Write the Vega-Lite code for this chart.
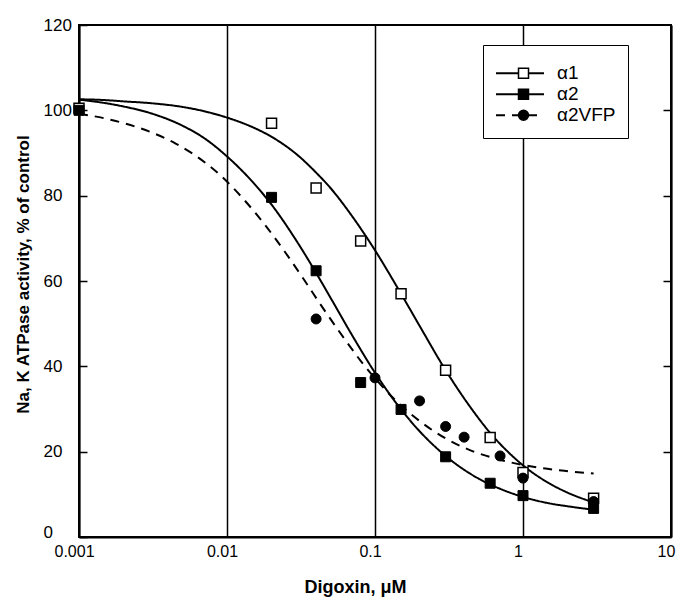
{
  "$schema": "https://vega.github.io/schema/vega-lite/v6.json",
  "width": 592,
  "height": 512,
  "autosize": "none",
  "padding": {"left": 79, "top": 25, "right": 10, "bottom": 60},
  "background": "white",
  "datasets": {
    "curves": [
      {"series": "α1", "x": 0.001, "y": 102.6},
      {"series": "α1", "x": 0.0015, "y": 102.4},
      {"series": "α1", "x": 0.002, "y": 102.1},
      {"series": "α1", "x": 0.003, "y": 101.7},
      {"series": "α1", "x": 0.005, "y": 100.8},
      {"series": "α1", "x": 0.007, "y": 99.8},
      {"series": "α1", "x": 0.01, "y": 98.3},
      {"series": "α1", "x": 0.015, "y": 96.0},
      {"series": "α1", "x": 0.02, "y": 93.8},
      {"series": "α1", "x": 0.03, "y": 89.5},
      {"series": "α1", "x": 0.04, "y": 85.4},
      {"series": "α1", "x": 0.05, "y": 81.8},
      {"series": "α1", "x": 0.07, "y": 75.2},
      {"series": "α1", "x": 0.1, "y": 67.2},
      {"series": "α1", "x": 0.15, "y": 57.0},
      {"series": "α1", "x": 0.2, "y": 49.5},
      {"series": "α1", "x": 0.3, "y": 39.1},
      {"series": "α1", "x": 0.45, "y": 30.0},
      {"series": "α1", "x": 0.6, "y": 24.4},
      {"series": "α1", "x": 0.8, "y": 19.8},
      {"series": "α1", "x": 1, "y": 16.8},
      {"series": "α1", "x": 1.5, "y": 12.6},
      {"series": "α1", "x": 2, "y": 10.4},
      {"series": "α1", "x": 3, "y": 8.1},
      {"series": "α2", "x": 0.001, "y": 102.5},
      {"series": "α2", "x": 0.0015, "y": 101.7},
      {"series": "α2", "x": 0.002, "y": 100.9},
      {"series": "α2", "x": 0.003, "y": 99.4},
      {"series": "α2", "x": 0.005, "y": 96.4},
      {"series": "α2", "x": 0.007, "y": 93.5},
      {"series": "α2", "x": 0.01, "y": 89.2},
      {"series": "α2", "x": 0.015, "y": 83.1},
      {"series": "α2", "x": 0.02, "y": 77.9},
      {"series": "α2", "x": 0.03, "y": 69.0},
      {"series": "α2", "x": 0.04, "y": 61.9},
      {"series": "α2", "x": 0.05, "y": 56.1},
      {"series": "α2", "x": 0.07, "y": 47.3},
      {"series": "α2", "x": 0.1, "y": 38.5},
      {"series": "α2", "x": 0.15, "y": 29.9},
      {"series": "α2", "x": 0.2, "y": 24.8},
      {"series": "α2", "x": 0.3, "y": 19.0},
      {"series": "α2", "x": 0.5, "y": 13.7},
      {"series": "α2", "x": 0.7, "y": 11.3},
      {"series": "α2", "x": 1, "y": 9.4},
      {"series": "α2", "x": 1.5, "y": 7.9},
      {"series": "α2", "x": 2, "y": 7.2},
      {"series": "α2", "x": 3, "y": 6.4},
      {"series": "α2VFP", "x": 0.001, "y": 99.2},
      {"series": "α2VFP", "x": 0.0015, "y": 98.1},
      {"series": "α2VFP", "x": 0.002, "y": 97.0},
      {"series": "α2VFP", "x": 0.003, "y": 95.0},
      {"series": "α2VFP", "x": 0.0045, "y": 92.2},
      {"series": "α2VFP", "x": 0.006, "y": 89.6},
      {"series": "α2VFP", "x": 0.009, "y": 84.8},
      {"series": "α2VFP", "x": 0.013, "y": 79.1},
      {"series": "α2VFP", "x": 0.018, "y": 73.2},
      {"series": "α2VFP", "x": 0.025, "y": 66.5},
      {"series": "α2VFP", "x": 0.033, "y": 60.4},
      {"series": "α2VFP", "x": 0.045, "y": 53.4},
      {"series": "α2VFP", "x": 0.06, "y": 47.2},
      {"series": "α2VFP", "x": 0.08, "y": 41.3},
      {"series": "α2VFP", "x": 0.1, "y": 37.2},
      {"series": "α2VFP", "x": 0.15, "y": 30.8},
      {"series": "α2VFP", "x": 0.2, "y": 27.2},
      {"series": "α2VFP", "x": 0.3, "y": 23.1},
      {"series": "α2VFP", "x": 0.45, "y": 20.2},
      {"series": "α2VFP", "x": 0.65, "y": 18.4},
      {"series": "α2VFP", "x": 0.9, "y": 17.2},
      {"series": "α2VFP", "x": 1.3, "y": 16.2},
      {"series": "α2VFP", "x": 1.9, "y": 15.5},
      {"series": "α2VFP", "x": 3, "y": 14.9}
    ],
    "obs": [
      {"series": "α1", "x": 0.001, "y": 100.5},
      {"series": "α1", "x": 0.02, "y": 97.0},
      {"series": "α1", "x": 0.04, "y": 81.8},
      {"series": "α1", "x": 0.08, "y": 69.4},
      {"series": "α1", "x": 0.15, "y": 57.0},
      {"series": "α1", "x": 0.3, "y": 39.1},
      {"series": "α1", "x": 0.6, "y": 23.3},
      {"series": "α1", "x": 1, "y": 15.1},
      {"series": "α1", "x": 3, "y": 9.1},
      {"series": "α2VFP", "x": 0.04, "y": 51.1},
      {"series": "α2VFP", "x": 0.1, "y": 37.3},
      {"series": "α2VFP", "x": 0.2, "y": 31.9},
      {"series": "α2VFP", "x": 0.3, "y": 25.9},
      {"series": "α2VFP", "x": 0.4, "y": 23.4},
      {"series": "α2VFP", "x": 0.7, "y": 19.0},
      {"series": "α2VFP", "x": 1, "y": 13.8},
      {"series": "α2VFP", "x": 3, "y": 8.3},
      {"series": "α2", "x": 0.001, "y": 100.0},
      {"series": "α2", "x": 0.02, "y": 79.6},
      {"series": "α2", "x": 0.04, "y": 62.4},
      {"series": "α2", "x": 0.08, "y": 36.2},
      {"series": "α2", "x": 0.15, "y": 29.9},
      {"series": "α2", "x": 0.3, "y": 18.8},
      {"series": "α2", "x": 0.6, "y": 12.6},
      {"series": "α2", "x": 1, "y": 9.7},
      {"series": "α2", "x": 3, "y": 6.7}
    ]
  },
  "layer": [
    {
      "data": {"name": "curves"},
      "mark": {"type": "line", "color": "black", "strokeWidth": 2, "interpolate": "monotone"},
      "encoding": {
        "x": {
          "field": "x", "type": "quantitative",
          "scale": {"type": "log", "domain": [0.001, 10], "nice": false},
          "axis": {
            "values": [0.001, 0.01, 0.1, 1, 10], "format": "~g",
            "grid": true, "gridColor": "black", "gridWidth": 1.5, "gridOpacity": 1,
            "ticks": false, "domainColor": "black", "domainWidth": 2,
            "labelFontSize": 16, "labelPadding": 6, "labelOffset": -5, "labelFlush": false,
            "title": "Digoxin, μM", "titleFontSize": 18, "titleFontWeight": "bold",
            "titleX": 276, "titleY": 50, "titleBaseline": "middle", "titleAlign": "center"
          }
        },
        "y": {
          "field": "y", "type": "quantitative",
          "scale": {"domain": [0, 120], "nice": false},
          "axis": {
            "orient": "right", "values": [20, 40, 60, 80, 100], "labels": false,
            "grid": false, "tickSize": -8, "tickColor": "black", "tickWidth": 1.5,
            "domainColor": "black", "domainWidth": 2, "title": null
          }
        },
        "strokeDash": {
          "field": "series", "type": "nominal",
          "scale": {"domain": ["α1", "α2", "α2VFP"], "range": [[1, 0], [1, 0], [9, 7]]},
          "legend": {
            "title": " ", "titleFontSize": 6, "titlePadding": 0,
            "orient": "none", "legendX": 404, "legendY": 20,
            "symbolType": "stroke", "symbolSize": 2304, "symbolStrokeWidth": 2, "symbolStrokeColor": "black",
            "clipHeight": 20.4, "rowPadding": 0, "padding": 12,
            "labelFontSize": 19, "labelOffset": 12, "labelColor": "black",
            "strokeColor": "black", "fillColor": "white"
          }
        }
      }
    },
    {
      "data": {"name": "obs"},
      "transform": [{"filter": {"field": "series", "equal": "α1"}}],
      "mark": {"type": "point", "shape": "square", "filled": true, "fill": "white", "stroke": "black", "strokeWidth": 1.5, "size": 100, "opacity": 1},
      "encoding": {
        "x": {"field": "x", "type": "quantitative", "scale": {"type": "log", "domain": [0.001, 10], "nice": false}},
        "y": {
          "field": "y", "type": "quantitative",
          "scale": {"domain": [0, 120], "nice": false},
          "axis": {
            "orient": "left", "values": [0, 20, 40, 60, 80, 100, 120],
            "grid": false, "tickSize": -8, "tickColor": "black", "tickWidth": 1.5,
            "domainColor": "black", "domainWidth": 2,
            "labelFontSize": 17, "labelAlign": "left", "labelPadding": 44,
            "labelBaseline": {"condition": {"test": "datum.value === 0", "value": "alphabetic"}, "value": "middle"},
            "title": "Na, K ATPase activity, % of control", "titleFontSize": 17, "titleFontWeight": "bold",
            "titleX": -56, "titleY": 249, "titleAngle": -90, "titleBaseline": "middle", "titleAlign": "center"
          }
        }
      }
    },
    {
      "data": {"name": "obs"},
      "transform": [{"filter": {"field": "series", "equal": "α2VFP"}}],
      "mark": {"type": "point", "shape": "circle", "filled": true, "fill": "black", "stroke": "black", "strokeWidth": 1, "size": 100, "opacity": 1},
      "encoding": {
        "x": {"field": "x", "type": "quantitative", "scale": {"type": "log", "domain": [0.001, 10], "nice": false}},
        "y": {"field": "y", "type": "quantitative", "scale": {"domain": [0, 120], "nice": false}, "axis": null}
      }
    },
    {
      "data": {"name": "obs"},
      "transform": [{"filter": {"field": "series", "equal": "α2"}}],
      "mark": {"type": "point", "shape": "square", "filled": true, "fill": "black", "stroke": "black", "strokeWidth": 1, "size": 100, "opacity": 1},
      "encoding": {
        "x": {"field": "x", "type": "quantitative", "scale": {"type": "log", "domain": [0.001, 10], "nice": false}},
        "y": {"field": "y", "type": "quantitative", "scale": {"domain": [0, 120], "nice": false}, "axis": null}
      }
    },
    {
      "data": {"name": "obs"},
      "transform": [{"filter": "false"}],
      "mark": {"type": "point", "filled": true, "strokeWidth": 1.5, "opacity": 1},
      "encoding": {
        "x": {"field": "x", "type": "quantitative", "scale": {"type": "log", "domain": [0.001, 10], "nice": false}},
        "y": {"field": "y", "type": "quantitative", "scale": {"domain": [0, 120], "nice": false}, "axis": null},
        "shape": {
          "field": "series", "type": "nominal",
          "scale": {"domain": ["α1 marker", "α2 marker", "α2VFP marker"], "range": ["square", "square", "circle"]},
          "legend": {
            "title": " ", "titleFontSize": 6, "titlePadding": 0,
            "orient": "none", "legendX": 404, "legendY": 20,
            "symbolSize": 100, "symbolOffset": 19, "symbolStrokeColor": "black", "symbolStrokeWidth": 1.5,
            "clipHeight": 20.4, "rowPadding": 0, "padding": 12,
            "labelFontSize": 19, "labelOpacity": 0,
            "strokeColor": "transparent", "fillColor": "transparent"
          }
        },
        "fill": {
          "field": "series", "type": "nominal",
          "scale": {"domain": ["α1 marker", "α2 marker", "α2VFP marker"], "range": ["white", "black", "black"]},
          "legend": {
            "title": " ", "titleFontSize": 6, "titlePadding": 0,
            "orient": "none", "legendX": 404, "legendY": 20,
            "symbolSize": 100, "symbolOffset": 19, "symbolStrokeColor": "black", "symbolStrokeWidth": 1.5,
            "clipHeight": 20.4, "rowPadding": 0, "padding": 12,
            "labelFontSize": 19, "labelOpacity": 0,
            "strokeColor": "transparent", "fillColor": "transparent"
          }
        },
        "stroke": {
          "field": "series", "type": "nominal",
          "scale": {"domain": ["α1 marker", "α2 marker", "α2VFP marker"], "range": ["black", "black", "black"]},
          "legend": {
            "title": " ", "titleFontSize": 6, "titlePadding": 0,
            "orient": "none", "legendX": 404, "legendY": 20,
            "symbolSize": 100, "symbolOffset": 19, "symbolStrokeColor": "black", "symbolStrokeWidth": 1.5,
            "clipHeight": 20.4, "rowPadding": 0, "padding": 12,
            "labelFontSize": 19, "labelOpacity": 0,
            "strokeColor": "transparent", "fillColor": "transparent"
          }
        }
      }
    }
  ],
  "resolve": {
    "axis": {"y": "independent"}
  },
  "config": {
    "font": "Liberation Sans",
    "view": {"stroke": "black", "strokeWidth": 2},
    "axis": {"labelFont": "Liberation Sans", "titleFont": "Liberation Sans", "labelColor": "black", "titleColor": "black"},
    "legend": {"labelFont": "Liberation Sans"}
  }
}
